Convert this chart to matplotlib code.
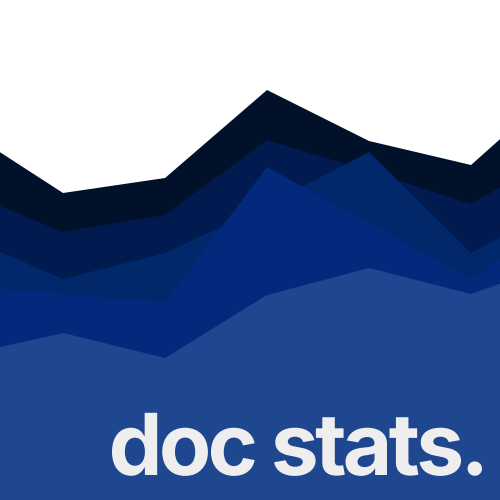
import matplotlib
matplotlib.use("Agg")
import matplotlib.pyplot as plt
from matplotlib.textpath import TextPath
from matplotlib.patches import PathPatch
from matplotlib.font_manager import FontProperties, findfont
from matplotlib.ft2font import FT2Font
from matplotlib.transforms import Affine2D

# points along x (index), view is cropped at both ends
x = [0, 1, 2, 3, 4, 5, 6]

# layers drawn back to front, each filled from the bottom
layer_a = [373, 307, 322, 410, 359, 335, 426]
layer_b = [310, 268, 285, 360, 329, 296, 356]
layer_c = [265, 221, 247, 295, 348, 247, 303]
layer_d = [214, 206, 198, 333, 277, 221, 288]
layer_e = [144, 167, 142, 205, 232, 206, 242]

layers = [layer_a, layer_b, layer_c, layer_d, layer_e]
colors = ["#02112a", "#011a50", "#00286a", "#03297c", "#1f478f"]

title = "doc stats."

fig = plt.figure(figsize=(5, 5), dpi=100)
ax = fig.add_axes([0, 0, 1, 1])

for vals, c in zip(layers, colors):
    ax.fill_between(x, 0, vals, color=c, linewidth=0)

ax.set_xlim(0.382, 5.284)
ax.set_ylim(0, 500)
ax.axis("off")

# title with tight letter spacing, built glyph by glyph (units = pixels)
fp = FontProperties(family="Inter", weight="bold")
d_box = TextPath((0, 0), "d", size=100, prop=fp).get_extents()
size = 100 * 63 / d_box.height
ft = FT2Font(findfont(fp))
ft.set_size(size, 72)

def advance(ch):
    g = ft.load_char(ord(ch))
    return g.linearHoriAdvance / 65536

# natural layout, then squeeze the gaps so the ink spans 370 px
pens = []
pen = 0
for ch in title:
    pens.append(pen)
    pen += advance(ch)
paths = [None if ch == " " else TextPath((0, 0), ch, size=size, prop=fp)
         for ch in title]
first = paths[0].get_extents().x0
last = pens[-1] + paths[-1].get_extents().x1
track = (370 - (last - first)) / (len(title) - 1)

right, baseline = 482, 25
shift = right - (last + track * (len(title) - 1))
for i, p in enumerate(paths):
    if p is None:
        continue
    tr = Affine2D().translate(shift + pens[i] + track * i, baseline)
    fig.add_artist(PathPatch(p, transform=tr, facecolor="#eeeeee",
                             edgecolor="none"))

fig.savefig("out.png", dpi=100)
